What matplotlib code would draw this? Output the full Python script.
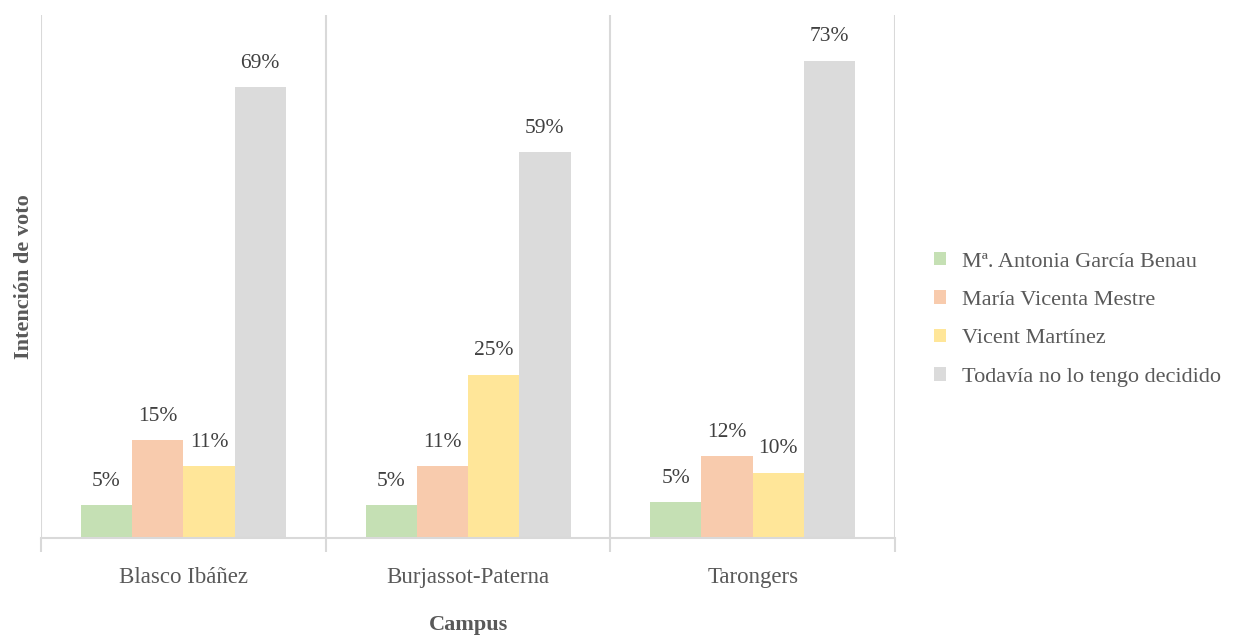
import numpy as np
import matplotlib.pyplot as plt

plt.rcParams['font.family'] = ['Liberation Serif', 'DejaVu Serif']

campus = ['Blasco Ibáñez', 'Burjassot-Paterna', 'Tarongers']
candidatos = ['Mª. Antonia García Benau', 'María Vicenta Mestre',
              'Vicent Martínez', 'Todavía no lo tengo decidido']
garcia = [0.05, 0.05, 0.055]
mestre = [0.15, 0.11, 0.125]
martinez = [0.11, 0.25, 0.10]
indecisos = [0.69, 0.59, 0.73]
etiquetas = [['5%', '5%', '5%'], ['15%', '11%', '12%'],
             ['11%', '25%', '10%'], ['69%', '59%', '73%']]
colores = ['#c5e0b4', '#f8cbad', '#ffe699', '#dbdbdb']

texto = '#595959'
linea = '#d9d9d9'

fig = plt.figure(figsize=(12.44, 6.39), dpi=100)
ax = fig.add_axes([0.033, 0.158, 0.6865, 0.8185])

series = [garcia, mestre, martinez, indecisos]
x = np.arange(len(campus))
w = 0.18
for i, vals in enumerate(series):
    pos = x + (i - 1.5) * w
    bars = ax.bar(pos, vals, w, color=colores[i], label=candidatos[i])
    for b, lab in zip(bars, etiquetas[i]):
        ax.text(b.get_x() + b.get_width() / 2, b.get_height() + 0.022, lab,
                ha='center', va='bottom', fontsize=15.5, color='#404040')

ax.set_xlim(-0.5, 2.5)
ax.set_ylim(0, 0.8)
ax.set_yticks([])
for s in ['top', 'right', 'left']:
    ax.spines[s].set_visible(False)
ax.spines['bottom'].set_color(linea)
ax.spines['bottom'].set_linewidth(1.5)

ax.set_xticks([-0.5, 0.5, 1.5, 2.5])
ax.set_xticklabels([])
ax.tick_params(axis='x', which='major', length=10, width=1.5, color=linea)
ax.set_xticks(x, minor=True)
ax.set_xticklabels(campus, minor=True, fontsize=16.5, color=texto)
ax.tick_params(axis='x', which='minor', length=0, pad=21)
ax.grid(axis='x', which='major', color=linea, linewidth=1.5)
ax.set_axisbelow(True)

ax.set_xlabel('Campus', fontsize=16, fontweight='bold', color=texto, va='center')
ax.xaxis.set_label_coords(0.5, -0.166)
ax.set_ylabel('Intención de voto', fontsize=16, fontweight='bold', color=texto, labelpad=5)

leg = ax.legend(loc='center left', bbox_to_anchor=(1.035, 0.418), frameon=False,
                fontsize=16, handlelength=0.55, handleheight=0.55,
                labelspacing=0.85, handletextpad=0.7, borderaxespad=0)
for t in leg.get_texts():
    t.set_color(texto)

fig.savefig('out.png', dpi=100)
